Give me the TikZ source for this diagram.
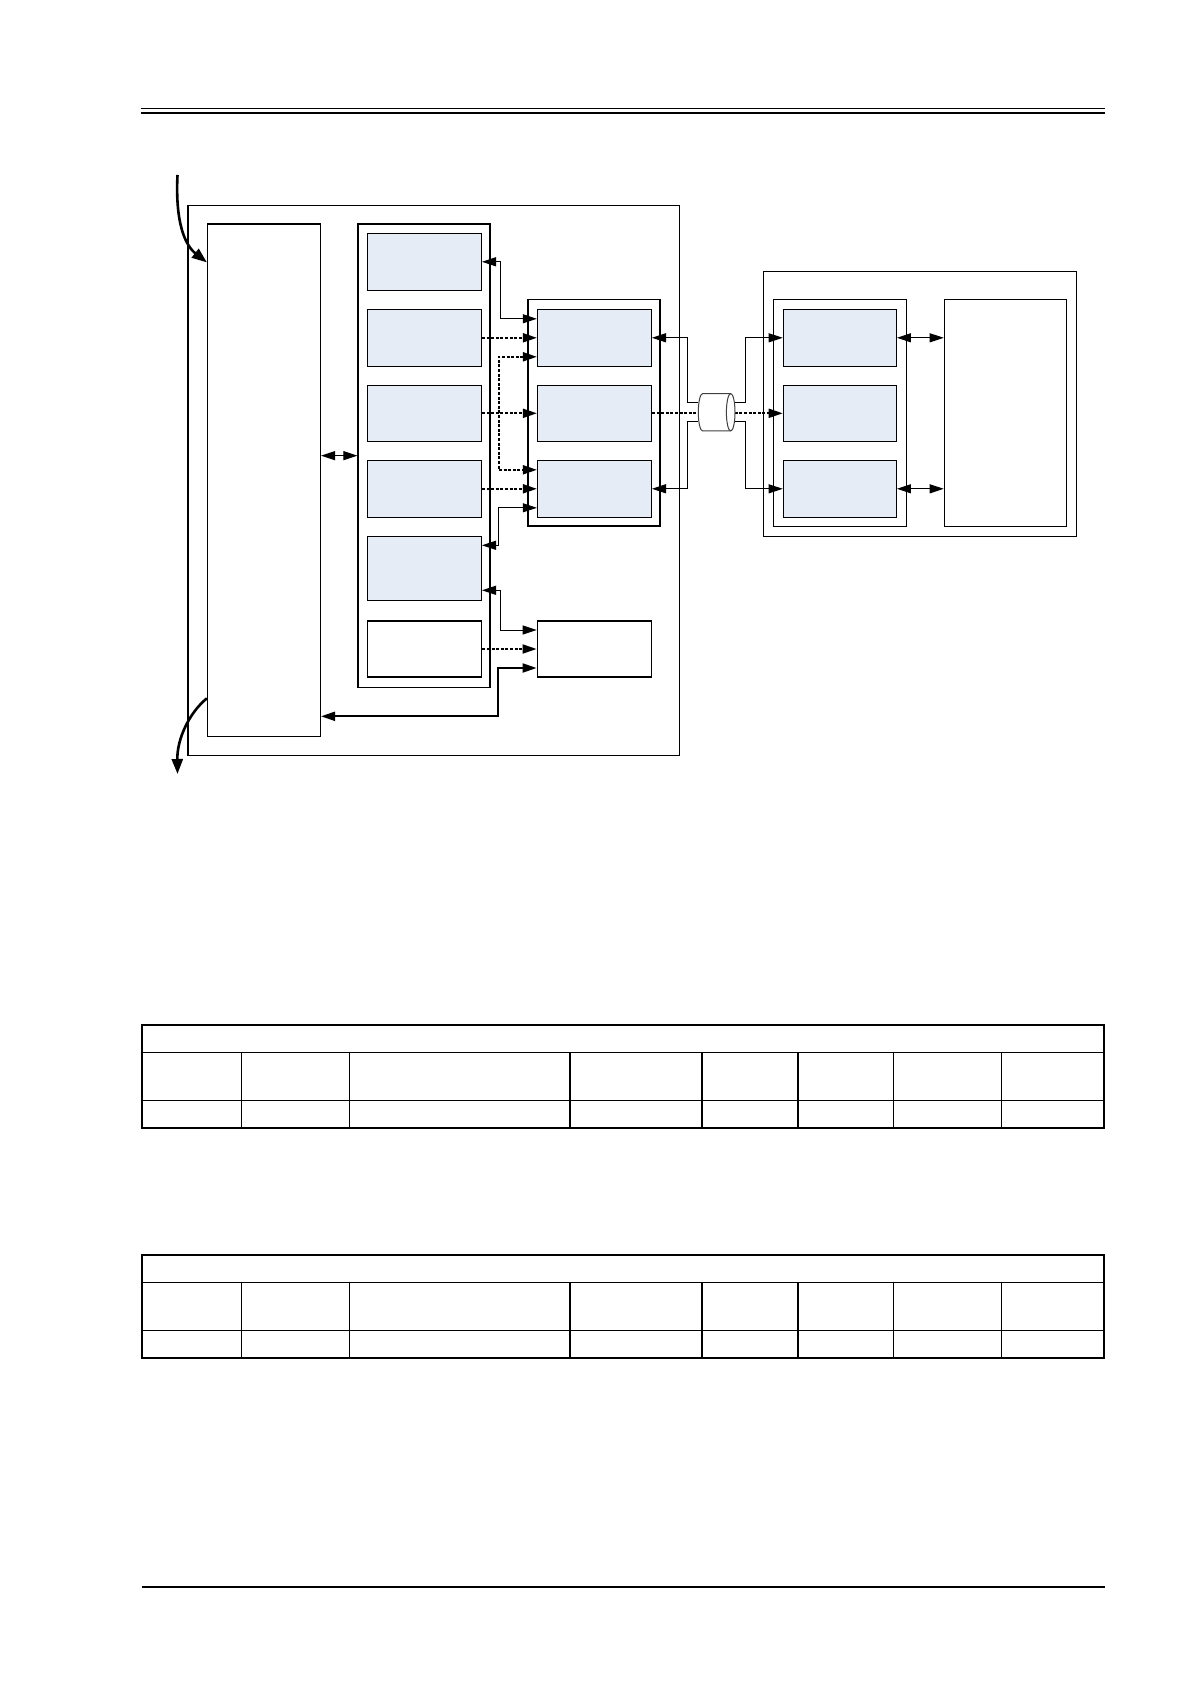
\documentclass[tikz,border=0pt]{standalone}
\usetikzlibrary{arrows.meta,calc,fit}
\definecolor{boxblue}{RGB}{230,236,246}
\begin{document}
\begin{tikzpicture}[x=0.5pt,y=-0.5pt,
  box/.style={draw,line width=0.6pt,inner sep=0pt},
  bluebox/.style={box,fill=boxblue},
  wbox/.style={box,line width=0.9pt},
  conn/.style={line width=0.5pt},
  thickconn/.style={line width=1pt},
  dots/.style={line width=0.9pt,dash pattern=on 1.5pt off 0.8pt},
  tip/.style={-{Triangle[length=7pt,width=4.5pt]}},
  dtip/.style={{Triangle[length=7pt,width=4.5pt]}-{Triangle[length=7pt,width=4.5pt]}},
  bigarrow/.style={line width=1.3pt,-{Triangle[length=7.5pt,width=5.5pt]}},
  cyl/.style={draw=black!75,line width=0.5pt},
  tline/.style={line width=0.55pt},
  tframe/.style={line width=1pt}
]
\fill[white] (0,0) rectangle (1190,1684);
\useasboundingbox (0,0) rectangle (1190,1684);

% header and footer rules
\draw[line width=0.6pt] (140.5,108.3) -- (1105,108.3);
\draw[line width=1.2pt] (140.5,113) -- (1105,113);
\draw[line width=1.1pt] (141.5,1586.7) -- (1104.5,1586.7);

% ---------- left system ----------
\node[box, fit={(188,205.5) (679.3,755.3)}] (LO) {};
\node[box, fit={(207.5,224) (320.4,736.3)}] (T) {};
\node[box, fit={(358,224) (490,687.3)}] (C) {};
\node[bluebox, fit={(367.5,233.3) (481.4,290.3)}] (L1) {};
\node[bluebox, fit={(367.5,309.3) (481.4,366.3)}] (L2) {};
\node[bluebox, fit={(367.5,385.3) (481.4,441.3)}] (L3) {};
\node[bluebox, fit={(367.5,460.3) (481.4,517.3)}] (L4) {};
\node[bluebox, fit={(367.5,536.3) (481.4,600.3)}] (L5) {};
\node[wbox, fit={(367.5,620.7) (481.4,677.3)}] (LW) {};
\node[box, fit={(528,299.3) (660,526)}] (M) {};
\node[bluebox, fit={(537.5,309.3) (651.4,366.3)}] (M1) {};
\node[bluebox, fit={(537.5,385.3) (651.4,441.3)}] (M2) {};
\node[bluebox, fit={(537.5,460.3) (651.4,517.3)}] (M3) {};
\node[wbox, fit={(537.5,620.7) (651.4,677.3)}] (MW) {};

% ---------- right system ----------
\node[box, fit={(763.6,271.7) (1076.3,536.3)}] (RO) {};
\node[box, fit={(773.3,299.3) (906.3,526.3)}] (RG) {};
\node[bluebox, fit={(783.3,309.3) (896.3,366.3)}] (R1) {};
\node[bluebox, fit={(783.3,385.3) (896.3,441.3)}] (R2) {};
\node[bluebox, fit={(783.3,460.3) (896.3,517.3)}] (R3) {};
\node[box, fit={(944.3,299.3) (1066.3,526.3)}] (RT) {};

% ---------- connectors, left ----------
\draw[conn,dtip] (T.east |- C.west) -- (C.west);
\draw[conn,dtip] (L1.east) -- ++(18,0) |- ($(M1.west)+(0,-19)$);
\draw[dots,tip] (L2.east) -- (M1.west);
\draw[dots,dtip] ($(M1.west)+(0,19)$) -- ++(-38.2,0) |- ($(M3.west)+(0,-19)$);
\draw[dots,tip] (L3.east) -- (M2.west);
\draw[dots,tip] (L4.east) -- (M3.west);
\draw[conn,dtip] ($(M3.west)+(0,19)$) -- ++(-38.2,0) |- ($(L5.east)+(0,-23)$);
\draw[conn,dtip] ($(L5.east)+(0,22)$) -- ++(18,0) |- ($(MW.west)+(0,-19)$);
\draw[dots,tip] (LW.east) -- (MW.west);
\draw[thickconn,dtip] ($(MW.west)+(0,19)$) -- ++(-38.2,0) |- ($(T.south east)+(0,-20.6)$);

% curved in/out arrows
\coordinate (inS) at (177.5,175);
\coordinate (outE) at (177.5,774);
\draw[bigarrow] (inS) .. controls (175,225) and (186,246) .. ($(T.north west)+(0,39)$);
\draw[bigarrow] ($(T.south west)+(0,-38.6)$) .. controls (190,712) and (177,738) .. (outE);

% ---------- link through the cylinder ----------
\draw[dots,tip] (M2.east) -- (R2.west);
\node[inner sep=0pt, fit={(698.3,393.6) (735,431)}] (Cy) {};
\fill[white] (702.6,393.6) -- (730.7,393.6)
  arc[start angle=90, end angle=-90, x radius=2.15pt, y radius=9.35pt]
  -- (702.6,431) arc[start angle=-90, end angle=-270, x radius=2.15pt, y radius=9.35pt] -- cycle;
\draw[cyl] (702.6,393.6) -- (730.7,393.6)
  arc[start angle=90, end angle=-90, x radius=2.15pt, y radius=9.35pt]
  -- (702.6,431) arc[start angle=-90, end angle=-270, x radius=2.15pt, y radius=9.35pt];
\draw[cyl] (730.7,393.6) arc[start angle=90, end angle=270, x radius=2.15pt, y radius=9.35pt];
\draw[conn,tip] ($(Cy.west)+(0,-9.5)$) -- ++(-10,0) |- (M1.east);
\draw[conn,tip] ($(Cy.west)+(0,9.5)$) -- ++(-10,0) |- (M3.east);
\draw[conn,tip] ($(Cy.east)+(0,-9.5)$) -- ++(10,0) |- (R1.west);
\draw[conn,tip] ($(Cy.east)+(0,9.5)$) -- ++(10,0) |- (R3.west);

% ---------- connectors, right ----------
\draw[conn,dtip] (R1.east) -- (RT.west |- R1.east);
\draw[conn,dtip] (R3.east) -- (RT.west |- R3.east);

% ---------- tables ----------
\foreach \oy in {0,230}{
  \draw[tline] (141.5,1052.3+\oy) -- (1103.5,1052.3+\oy);
  \draw[tline] (141.5,1100.3+\oy) -- (1103.5,1100.3+\oy);
  \foreach \x in {241.5,349.8,570,702,798,893.6,1001.3}
    \draw[tline] (\x,1052.3+\oy) -- (\x,1127.7+\oy);
  \draw[tframe] (141.5,1024.5+\oy) rectangle (1103.5,1127.7+\oy);
}
\end{tikzpicture}
\end{document}
